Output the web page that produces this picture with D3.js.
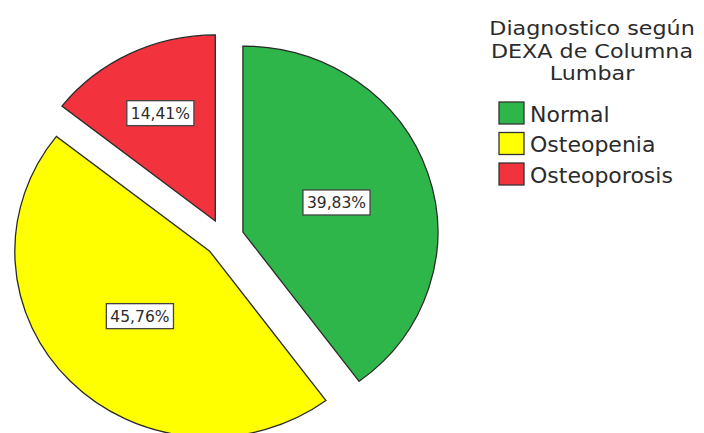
<!DOCTYPE html>
<html>
<head>
<meta charset="utf-8">
<title>Diagnostico DEXA</title>
<script src="https://cdn.jsdelivr.net/npm/d3@7"></script>
<style>
  body { margin: 0; background: #fff; }
  svg text { font-family: "DejaVu Sans", sans-serif; fill: #2b2b2b; }
</style>
</head>
<body>
<svg id="chart" width="704" height="433"></svg>
<script>
// data
var categories = ["Normal", "Osteopenia", "Osteoporosis"];
var percents = [39.83, 45.76, 14.41];
var colors = ["#2eb64a", "#ffff00", "#f2333d"];
var titleLines = ["Diagnostico según", "DEXA de Columna", "Lumbar"];

var width = 704, height = 433;
var cx = 224, cy = 238;      // pie centre
var R = 186;                 // radius
var sx = 1.048;              // picture is a bit stretched sideways
var explode = 19;

var svg = d3.select("#chart");

var pie = d3.pie().sort(null).value(function(d) { return d; });
var arcs = pie(percents);
var arc = d3.arc().innerRadius(0).outerRadius(R);

function offsetOf(a, dist) {
  var mid = (a.startAngle + a.endAngle) / 2;
  return [Math.sin(mid) * dist, -Math.cos(mid) * dist];
}

var pieG = svg.append("g")
  .attr("transform", "translate(" + cx + "," + cy + ") scale(" + sx + ",1)");

pieG.selectAll("path")
  .data(arcs)
  .enter().append("path")
  .attr("d", arc)
  .attr("transform", function(d) {
    var o = offsetOf(d, explode);
    return "translate(" + o[0] + "," + o[1] + ")";
  })
  .attr("fill", function(d, i) { return colors[i]; })
  .attr("stroke", "#2a2a2a")
  .attr("stroke-width", 1.3)
  .attr("vector-effect", "non-scaling-stroke");

// labels: sector centroid (or half radius, whichever is further out)
var labels = svg.append("g").selectAll("g")
  .data(arcs)
  .enter().append("g")
  .attr("transform", function(d) {
    var half = (d.endAngle - d.startAngle) / 2;
    var dist = Math.max(R * 0.5, 2 * R * Math.sin(half) / (3 * half));
    var o = offsetOf(d, explode + dist);
    return "translate(" + (cx + o[0] * sx) + "," + (cy + o[1]) + ")";
  });

labels.append("rect");
labels.append("text")
  .attr("text-anchor", "middle")
  .attr("dy", "0.36em")
  .style("font-size", "15.5px")
  .text(function(d) { return d.data.toFixed(2).replace(".", ",") + "%"; });

labels.each(function() {
  var g = d3.select(this);
  var w = g.select("text").node().getComputedTextLength() + 8;
  g.select("rect")
    .attr("x", -w / 2).attr("y", -12.5)
    .attr("width", w).attr("height", 25)
    .attr("fill", "#fff")
    .attr("stroke", "#444")
    .attr("stroke-width", 1.3);
});

// legend title: tight lines, so a smaller font widened to the original width
svg.append("g")
  .attr("transform", "translate(592,0) scale(1.17,1)")
  .selectAll("text")
  .data(titleLines)
  .enter().append("text")
  .attr("x", 0)
  .attr("y", function(d, i) { return 35.5 + i * 22.3; })
  .attr("text-anchor", "middle")
  .style("font-size", "19px")
  .text(function(d) { return d; });

// legend items
var legend = svg.append("g").selectAll("g")
  .data(categories)
  .enter().append("g")
  .attr("transform", function(d, i) { return "translate(499," + (102 + i * 30.5) + ")"; });

legend.append("rect")
  .attr("width", 25).attr("height", 22)
  .attr("fill", function(d, i) { return colors[i]; })
  .attr("stroke", "#333")
  .attr("stroke-width", 1.3);

legend.append("text")
  .attr("x", 31)
  .attr("y", 19.5)
  .style("font-size", "22px")
  .text(function(d) { return d; });
</script>
</body>
</html>
